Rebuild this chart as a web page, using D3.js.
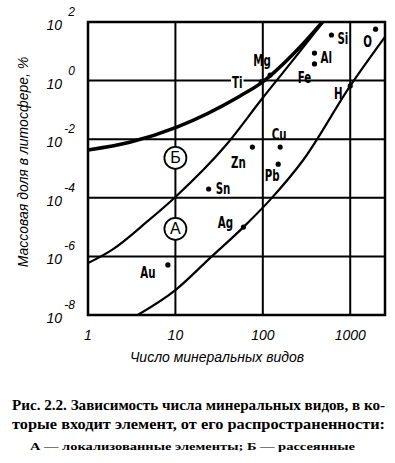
<!DOCTYPE html>
<html>
<head>
<meta charset="utf-8">
<script src="https://cdn.jsdelivr.net/npm/d3@7"></script>
<style>
body { margin: 0; background: #fff; }
svg { display: block; }
.tick { font-family: "Liberation Sans", Arial, sans-serif; font-style: italic; }
.el { font-family: "Liberation Sans Narrow", "DejaVu Sans Condensed", sans-serif; font-weight: bold; font-size: 15px; }
.cap { font-family: "Liberation Serif", "DejaVu Serif", serif; font-weight: bold; }
</style>
</head>
<body>
<div id="chart"></div>
<script>
// axis ticks
var xTicks = [1, 10, 100, 1000];
var yTicks = [1e2, 1, 1e-2, 1e-4, 1e-6, 1e-8];
var yExponents = ["2", "0", "-2", "-4", "-6", "-8"];

// elements: number of minerals vs mass share in lithosphere, %
var elements  = ["O", "Si", "Al", "Fe", "Mg", "Ti", "H", "Cu", "Zn", "Pb", "Sn", "Ag", "Au"];
var minerals  = [1950, 610, 390, 390, 121, 96, 1000, 158, 76, 150, 24, 60, 8.2];
var abundance = [57, 36, 8.7, 3.7, 1.55, 0.9, 0.66, 0.0054, 0.0054, 0.0014, 0.0002, 1.0e-5, 5.1e-7];

// boundary curves
var upperX  = [1, 3, 10.4, 55, 99, 247, 480];
var upperY  = [0.0043, 0.0079, 0.026, 0.30, 0.89, 11, 100];
var middleX = [1, 1.9, 4.7, 10, 38, 100, 246, 490];
var middleY = [5.9e-7, 1.7e-6, 1.5e-5, 1.07e-4, 0.0063, 0.26, 7.4, 100];
var lowerX  = [3.7, 10, 25, 60, 121, 290, 1000, 2500];
var lowerY  = [1e-8, 7.1e-8, 8.9e-7, 1e-5, 8.5e-5, 0.00195, 0.66, 31];

// circled region labels
var regionLabels = ["Б", "А"];
var regionX = [10, 10];
var regionY = [0.0023, 8.7e-6];

(function () {
	var W = 395, H = 463;
	var pLeft = 88, pTop = 22, pRight = 385, pBottom = 315;

	// label placement (dx, dy, anchor) relative to the dot
	var labelPos = {
		O: [-8, 17, "middle"], Si: [6, 8, "start"], Al: [6, 9, "start"], Fe: [-10, 18, "middle"],
		Mg: [-8, -10, "middle"], Ti: [-24, 5, "middle"], H: [-12, 12, "middle"], Cu: [-1, -8, "middle"],
		Zn: [-14, 20, "middle"], Pb: [-6, 16, "middle"], Sn: [7, 4, "start"], Ag: [-18, 0, "middle"],
		Au: [-20, 12, "middle"]
	};

	var x = d3.scaleLog().domain([1, 2500]).range([pLeft, pRight]);
	var y = d3.scaleLog().domain([1e-8, 1e2]).range([pBottom, pTop]);

	var svg = d3.select("#chart").append("svg")
		.attr("width", W)
		.attr("height", H);

	// grid
	svg.selectAll("line.vg")
		.data(xTicks.slice(1))
		.enter().append("line")
		.attr("x1", function(d) { return x(d); })
		.attr("x2", function(d) { return x(d); })
		.attr("y1", pTop).attr("y2", pBottom)
		.attr("stroke", "#000").attr("stroke-width", 2);

	svg.selectAll("line.hg")
		.data(yTicks.slice(1, -1))
		.enter().append("line")
		.attr("x1", pLeft).attr("x2", pRight)
		.attr("y1", function(d) { return y(d); })
		.attr("y2", function(d) { return y(d); })
		.attr("stroke", "#000").attr("stroke-width", 2);

	// curves
	var line = d3.line()
		.x(function(d) { return x(d[0]); })
		.y(function(d) { return y(d[1]); })
		.curve(d3.curveMonotoneX);

	function zip(a, b) { return a.map(function(v, i) { return [v, b[i]]; }); }

	svg.append("clipPath").attr("id", "clip")
		.append("rect").attr("x", pLeft).attr("y", pTop)
		.attr("width", pRight - pLeft).attr("height", pBottom - pTop);

	var curves = svg.append("g").attr("clip-path", "url(#clip)");
	curves.append("path").attr("d", line(zip(upperX, upperY)))
		.attr("fill", "none").attr("stroke", "#000").attr("stroke-width", 3.5);
	curves.append("path").attr("d", line(zip(middleX, middleY)))
		.attr("fill", "none").attr("stroke", "#000").attr("stroke-width", 2.2);
	curves.append("path").attr("d", line(zip(lowerX, lowerY)))
		.attr("fill", "none").attr("stroke", "#000").attr("stroke-width", 2.2);

	// frame
	svg.append("rect")
		.attr("x", pLeft).attr("y", pTop)
		.attr("width", pRight - pLeft).attr("height", pBottom - pTop)
		.attr("fill", "none").attr("stroke", "#000").attr("stroke-width", 2.5);

	// circled labels
	var reg = svg.selectAll("g.reg")
		.data(regionLabels)
		.enter().append("g")
		.attr("transform", function(d, i) { return "translate(" + x(regionX[i]) + "," + y(regionY[i]) + ")"; });
	reg.append("circle").attr("r", 11)
		.attr("fill", "#fff").attr("stroke", "#000").attr("stroke-width", 1.8);
	reg.append("text").text(function(d) { return d; })
		.attr("class", "tick").attr("text-anchor", "middle").attr("dy", 5.5)
		.style("font-style", "normal").style("font-size", "16px");

	// element dots and labels
	var pts = elements.map(function(e, i) { return { name: e, mx: minerals[i], ab: abundance[i] }; });

	svg.selectAll("g.lab")
		.data(pts)
		.enter().append("g")
		.each(function(d) {
			var g = d3.select(this);
			var p = labelPos[d.name];
			var t = g.append("text")
				.attr("class", "el")
				.attr("x", x(d.mx) + p[0])
				.attr("y", y(d.ab) + p[1] + 1)
				.attr("text-anchor", p[2])
				.text(d.name);
			// squeeze to a narrow face
			var len = t.node().getComputedTextLength();
			t.attr("textLength", len * 0.76).attr("lengthAdjust", "spacingAndGlyphs");
			if (d.name === "Ti") {
				var b = t.node().getBBox();
				g.insert("rect", "text")
					.attr("x", b.x - 1).attr("y", b.y)
					.attr("width", b.width + 2).attr("height", b.height)
					.attr("fill", "#fff");
			}
		});
	svg.selectAll("circle.dot")
		.data(pts)
		.enter().append("circle")
		.attr("cx", function(d) { return x(d.mx); })
		.attr("cy", function(d) { return y(d.ab); })
		.attr("r", 2.6)
		.attr("fill", "#000");

	// y tick labels: 10 with exponent
	var yl = svg.selectAll("g.yl")
		.data(yTicks)
		.enter().append("g")
		.attr("class", "tick");
	yl.append("text")
		.attr("x", 62)
		.attr("y", function(d) { return y(d) + 8; })
		.attr("text-anchor", "end")
		.style("font-size", "14px")
		.text("10");
	yl.append("text")
		.attr("x", 75)
		.attr("y", function(d) { return y(d) - 6; })
		.attr("text-anchor", "end")
		.style("font-size", "12px")
		.text(function(d, i) { return yExponents[i]; });

	// x tick labels
	svg.selectAll("text.xl")
		.data(xTicks)
		.enter().append("text")
		.attr("class", "tick")
		.attr("x", function(d) { return x(d); })
		.attr("y", 340)
		.attr("text-anchor", "middle")
		.style("font-size", "14px")
		.text(function(d) { return d; });

	// axis titles
	svg.append("text")
		.attr("class", "tick")
		.attr("x", 217).attr("y", 362)
		.attr("text-anchor", "middle")
		.style("font-size", "14px")
		.text("Число минеральных видов");

	svg.append("text")
		.attr("class", "tick")
		.attr("transform", "translate(28,162) rotate(-90)")
		.attr("text-anchor", "middle")
		.style("font-size", "14px")
		.text("Массовая доля в литосфере, %");

	// caption
	svg.append("text").attr("class", "cap")
		.attr("x", 12).attr("y", 410)
		.attr("textLength", 373).attr("lengthAdjust", "spacingAndGlyphs")
		.style("font-size", "15px")
		.text("Рис. 2.2. Зависимость числа минеральных видов, в ко-");
	svg.append("text").attr("class", "cap")
		.attr("x", 12).attr("y", 429)
		.attr("textLength", 373).attr("lengthAdjust", "spacingAndGlyphs")
		.style("font-size", "15px")
		.text("торые входит элемент, от его распространенности:");
	svg.append("text").attr("class", "cap")
		.attr("x", 30).attr("y", 450)
		.attr("textLength", 325).attr("lengthAdjust", "spacingAndGlyphs")
		.style("font-size", "11px")
		.text("А — локализованные элементы; Б — рассеянные");
})();
</script>
</body>
</html>
